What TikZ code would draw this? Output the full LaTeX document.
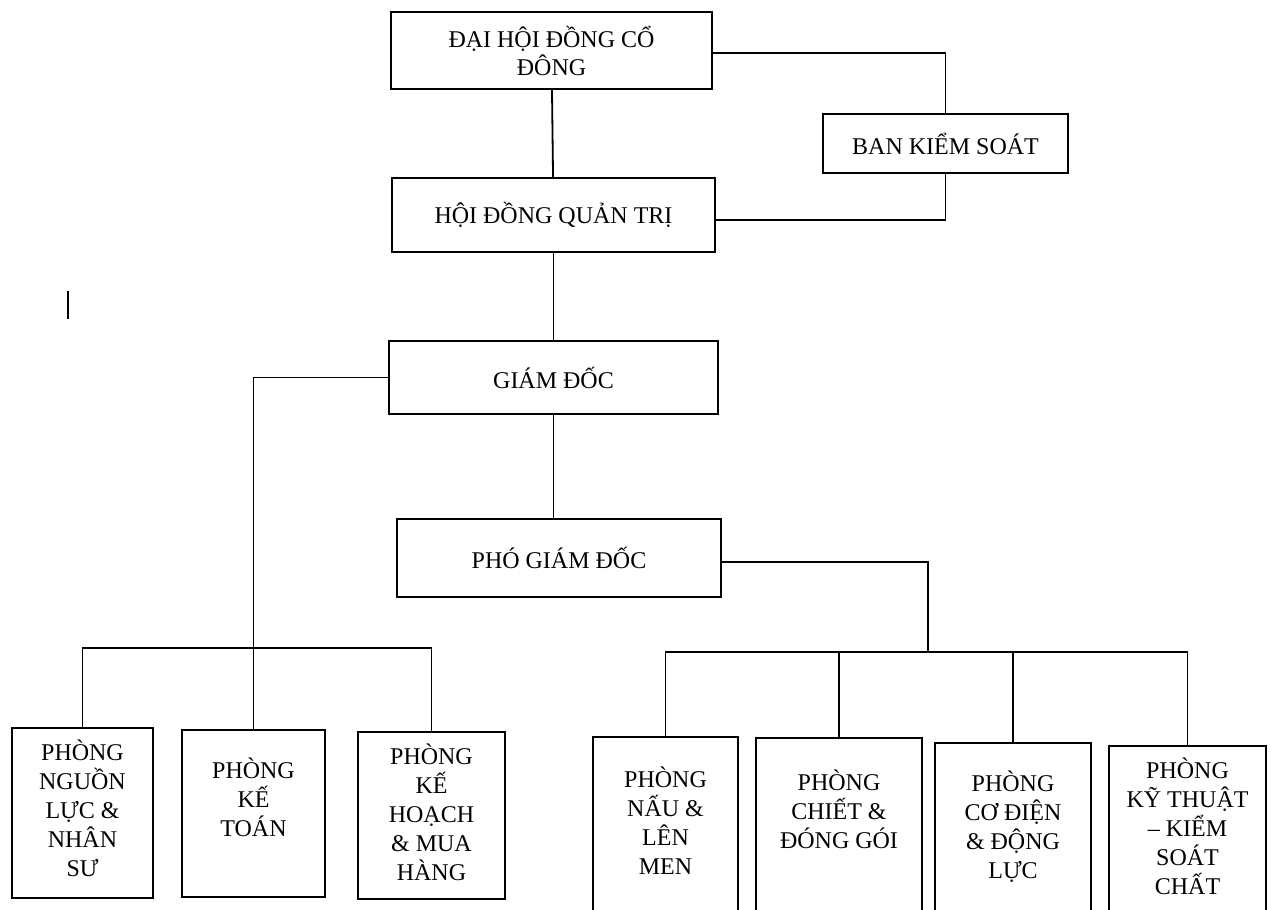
\documentclass[tikz,border=0pt]{standalone}
\usepackage{fontspec}
\setmainfont{Liberation Serif}
\usetikzlibrary{positioning}
\tikzset{
  box/.style={draw, line width=0.9pt, inner sep=0pt, align=center, font=\fontsize{12}{14}\selectfont},
  txt/.style={align=center, inner sep=0pt, font=\fontsize{12}{14.5}\selectfont},
  link/.style={line width=0.9pt}
}
\begin{document}
\begin{tikzpicture}[x=0.5pt, y=-0.5pt]
\useasboundingbox (0,0) rectangle (1272,909);
\clip (0,0) rectangle (1272,909);
% upper levels
\node (dhcd) [box, minimum width=160.5pt, minimum height=38.5pt] at (551.5,50.5) {ĐẠI HỘI ĐỒNG CỔ\\ĐÔNG};
\node (bks) [box, minimum width=122.5pt, minimum height=29.5pt] at (945.5,143.5) {BAN KIỂM SOÁT};
\node (hdqt) [box, minimum width=161.5pt, minimum height=37pt] at (553.5,215) {HỘI ĐỒNG QUẢN TRỊ};
\node (gd) [box, minimum width=164.5pt, minimum height=36.5pt] at (553.5,377.5) {GIÁM ĐỐC};
\node (pgd) [box, minimum width=162pt, minimum height=39pt] at (559,558) {PHÓ GIÁM ĐỐC};
% departments
\node (b1) [box, minimum width=70.5pt, minimum height=85pt] at (82.5,813) {};
\node (b2) [box, minimum width=71.5pt, minimum height=83.5pt] at (253.5,813.5) {};
\node (b3) [box, minimum width=73.5pt, minimum height=83.5pt] at (431.5,815.5) {};
\node (b4) [box, minimum width=72.5pt, minimum height=101.5pt] at (665.5,838.5) {};
\node (b5) [box, minimum width=83pt, minimum height=101pt] at (839,839) {};
\node (b6) [box, minimum width=78pt, minimum height=98.5pt] at (1013,841.5) {};
\node (b7) [box, minimum width=78.5pt, minimum height=97pt] at (1187.5,843) {};
\node (t1) [txt, below=6pt of b1.north] {PHÒNG\\NGUỒN\\LỰC \&\\NHÂN\\SƯ};
\node (t2) [txt, below=14pt of b2.north] {PHÒNG\\KẾ\\TOÁN};
\node (t3) [txt, below=6pt of b3.north] {PHÒNG\\KẾ\\HOẠCH\\\& MUA\\HÀNG};
\node (t4) [txt, below=15pt of b4.north] {PHÒNG\\NẤU \&\\LÊN\\MEN};
\node (t5) [txt, below=16pt of b5.north] {PHÒNG\\CHIẾT \&\\ĐÓNG GÓI};
\node (t6) [txt, below=14pt of b6.north] {PHÒNG\\CƠ ĐIỆN\\\& ĐỘNG\\LỰC};
\node (t7) [txt, below=6pt of b7.north] {PHÒNG\\KỸ THUẬT\\– KIỂM\\SOÁT\\CHẤT};
% connectors
\coordinate (lbus) at (0,648);
\coordinate (rbus) at (0,652);
\coordinate (rjoint) at (928,652);
\draw [link] (dhcd) -- (hdqt);
\draw [link] ([yshift=-1.25pt]dhcd.east) -| (bks.north);
\draw [link] (bks.south) |- ([yshift=-2.5pt]hdqt.east);
\draw [link] (hdqt) -- (gd);
\draw [link] (gd.south) -- (gd.south |- pgd.north);
\draw [link] (gd.west) -| (b2.north);
\draw [link] (b1.north) |- (lbus -| b3.north) -- (b3.north);
\draw [link] ([yshift=-2pt]pgd.east) -| (rjoint);
\draw [link] (b4.north) |- (rbus -| b7.north) -- (b7.north);
\draw [link] (b5.north) -- (b5.north |- rbus);
\draw [link] (b6.north) -- (b6.north |- rbus);
\draw [link] (68,291) -- (68,319);
\end{tikzpicture}
\end{document}
